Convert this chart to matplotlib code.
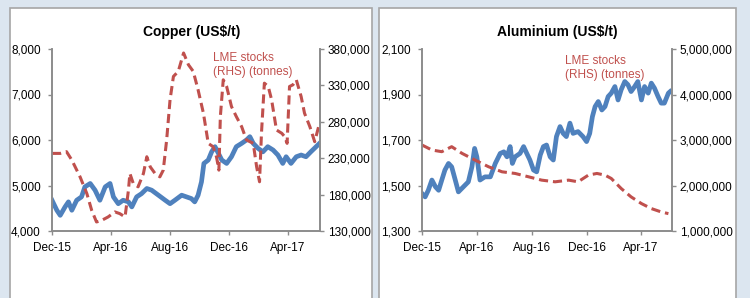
import pandas as pd
import numpy as np
import matplotlib
matplotlib.use('Agg')
import matplotlib.pyplot as plt
from matplotlib.patches import Rectangle
from matplotlib.ticker import FuncFormatter

plt.rcParams['font.family'] = ['Liberation Sans', 'DejaVu Sans']

# --- Copper price (US$/t) ---
cu_price_dates = ['2015-12-01', '2015-12-11', '2015-12-18', '2015-12-28', '2016-01-04', '2016-01-11',
                  '2016-01-21', '2016-01-31', '2016-02-07', '2016-02-18', '2016-02-28', '2016-03-09',
                  '2016-03-20', '2016-03-30', '2016-04-06', '2016-04-16', '2016-04-26', '2016-05-07',
                  '2016-05-14', '2016-05-24', '2016-06-03', '2016-06-14', '2016-06-24', '2016-07-08',
                  '2016-07-22', '2016-08-01', '2016-08-11', '2016-08-25', '2016-09-04', '2016-09-14',
                  '2016-09-21', '2016-09-28', '2016-10-05', '2016-10-10', '2016-10-19', '2016-10-26',
                  '2016-11-02', '2016-11-09', '2016-11-16', '2016-11-26', '2016-12-06', '2016-12-16',
                  '2016-12-27', '2017-01-06', '2017-01-13', '2017-01-20', '2017-01-30', '2017-02-09',
                  '2017-02-19', '2017-03-02', '2017-03-12', '2017-03-22', '2017-03-29', '2017-04-08',
                  '2017-04-19', '2017-04-29', '2017-05-09', '2017-05-19', '2017-05-30', '2017-06-06']
cu_price = [4676, 4456, 4345, 4530, 4640, 4456, 4676, 4750, 4970, 5044, 4897, 4676,
            4970, 5044, 4750, 4600, 4676, 4640, 4530, 4750, 4820, 4934, 4897, 4787,
            4676, 4600, 4676, 4787, 4750, 4713, 4640, 4787, 5080, 5485, 5560, 5740,
            5853, 5706, 5560, 5485, 5632, 5853, 5926, 6000, 6073, 5926, 5816, 5740,
            5853, 5780, 5670, 5485, 5632, 5485, 5632, 5670, 5632, 5740, 5853, 5926]

# --- Copper LME stocks (tonnes) ---
cu_stock_dates = ['2015-12-01', '2015-12-18', '2015-12-31', '2016-01-11', '2016-01-28', '2016-02-11',
                  '2016-02-21', '2016-03-02', '2016-03-13', '2016-03-26', '2016-04-09', '2016-04-19',
                  '2016-04-30', '2016-05-07', '2016-05-10', '2016-05-17', '2016-05-27', '2016-06-07',
                  '2016-06-14', '2016-06-21', '2016-07-01', '2016-07-11', '2016-07-18', '2016-07-25',
                  '2016-08-01', '2016-08-08', '2016-08-18', '2016-08-29', '2016-09-08', '2016-09-18',
                  '2016-09-28', '2016-10-09', '2016-10-19', '2016-10-29', '2016-11-05', '2016-11-10',
                  '2016-11-13', '2016-11-19', '2016-11-26', '2016-12-06', '2016-12-16', '2016-12-27',
                  '2017-01-06', '2017-01-20', '2017-01-27', '2017-02-02', '2017-02-06', '2017-02-12',
                  '2017-02-20', '2017-02-27', '2017-03-09', '2017-03-20', '2017-03-26', '2017-03-31',
                  '2017-04-05', '2017-04-12', '2017-04-19', '2017-04-29', '2017-05-06', '2017-05-17',
                  '2017-05-27', '2017-06-06']
cu_stock = [236600, 236600, 239000, 227400, 204400, 181500, 158500, 142400, 144700, 149300,
            156200, 153900, 149300, 186000, 209000, 195300, 190700, 209000, 232000, 218200,
            209000, 204400, 213600, 255000, 310100, 342300, 349200, 374500, 358400, 349200,
            323900, 291800, 250400, 245800, 232000, 213600, 287200, 337700, 328500, 301000,
            287200, 273400, 255000, 250400, 218200, 197600, 264200, 333100, 328500, 310100,
            268800, 264200, 259600, 250400, 328500, 330800, 337700, 314700, 291800, 273400,
            252700, 278000]

# --- Aluminium price (US$/t) ---
al_price_dates = ['2015-12-01', '2015-12-08', '2015-12-15', '2015-12-23', '2015-12-31', '2016-01-07',
                  '2016-01-14', '2016-01-21', '2016-01-29', '2016-02-05', '2016-02-13', '2016-02-20',
                  '2016-03-02', '2016-03-13', '2016-03-21', '2016-03-27', '2016-04-01', '2016-04-08',
                  '2016-04-19', '2016-05-01', '2016-05-12', '2016-05-23', '2016-05-31', '2016-06-07',
                  '2016-06-14', '2016-06-19', '2016-06-25', '2016-07-06', '2016-07-14', '2016-07-21',
                  '2016-07-28', '2016-08-05', '2016-08-12', '2016-08-20', '2016-08-27', '2016-09-03',
                  '2016-09-11', '2016-09-18', '2016-09-25', '2016-10-03', '2016-10-10', '2016-10-17',
                  '2016-10-25', '2016-11-01', '2016-11-12', '2016-11-23', '2016-12-01', '2016-12-08',
                  '2016-12-14', '2016-12-20', '2016-12-27', '2017-01-04', '2017-01-11', '2017-01-18',
                  '2017-01-25', '2017-02-02', '2017-02-09', '2017-02-16', '2017-02-24', '2017-03-03',
                  '2017-03-10', '2017-03-18', '2017-03-25', '2017-04-02', '2017-04-09', '2017-04-17',
                  '2017-04-24', '2017-05-01', '2017-05-09', '2017-05-16', '2017-05-23', '2017-06-01',
                  '2017-06-05']
al_price = [1465, 1450, 1479, 1524, 1494, 1479, 1524, 1568, 1597, 1582, 1524, 1472,
            1494, 1516, 1582, 1663, 1626, 1524, 1538, 1538, 1597, 1641, 1648, 1626,
            1671, 1597, 1626, 1641, 1671, 1641, 1612, 1568, 1560, 1634, 1671, 1678,
            1626, 1612, 1715, 1759, 1729, 1715, 1774, 1729, 1737, 1715, 1693, 1729,
            1803, 1847, 1869, 1832, 1847, 1891, 1906, 1935, 1876, 1921, 1957, 1943,
            1913, 1935, 1957, 1876, 1935, 1906, 1950, 1928, 1891, 1862, 1862, 1906,
            1913]

# --- Aluminium LME stocks (tonnes) ---
al_stock_dates = ['2015-12-01', '2015-12-23', '2016-01-14', '2016-02-05', '2016-02-28', '2016-03-28',
                  '2016-04-27', '2016-05-27', '2016-06-25', '2016-07-25', '2016-08-23', '2016-09-22',
                  '2016-10-22', '2016-11-12', '2016-12-05', '2016-12-24', '2017-01-11', '2017-01-25',
                  '2017-02-16', '2017-03-10', '2017-04-02', '2017-04-24', '2017-05-16', '2017-06-01']
al_stock = [2890000, 2780000, 2743000, 2853000, 2706000, 2559000, 2412000, 2301000, 2265000,
            2191000, 2118000, 2081000, 2118000, 2081000, 2228000, 2265000, 2228000, 2154000,
            1934000, 1750000, 1603000, 1493000, 1419000, 1382000]

tick_dates = ['2015-12-01', '2016-04-01', '2016-08-01', '2016-12-01', '2017-04-01']
tick_labels = ['Dec-15', 'Apr-16', 'Aug-16', 'Dec-16', 'Apr-17']

BLUE = '#4f81bd'
RED = '#c0504d'
GREY = '#8c8c8c'
FS = 8.5

fig = plt.figure(figsize=(7.5, 2.98), dpi=100)
fig.patch.set_facecolor('#dce6f0')

# white panels with grey borders
W, H = 750.0, 298.0
for x0, x1 in [(10, 372), (379, 736)]:
    fig.patches.append(Rectangle((x0 / W, -0.05), (x1 - x0) / W, (H - 8) / H + 0.05,
                                 transform=fig.transFigure, facecolor='white',
                                 edgecolor='#a6a6a6', linewidth=1.2, zorder=-5))


def draw_panel(rect, title, title_x, pdates, prices, sdates, stocks, ylim, yticks,
               y2lim, y2ticks, xend, ann_xy):
    ax = fig.add_axes(rect)
    ax.patch.set_alpha(0)
    ax.plot(pd.to_datetime(pdates), prices, color=BLUE, linewidth=3.4, solid_joinstyle='round')
    ax2 = ax.twinx()
    ax2.plot(pd.to_datetime(sdates), stocks, color=RED, linewidth=2.2, dashes=(3.0, 1.6))

    ax.set_xlim(pd.Timestamp('2015-12-01'), pd.Timestamp(xend))
    ax.set_ylim(*ylim)
    ax.set_yticks(yticks)
    ax2.set_ylim(*y2lim)
    ax2.set_yticks(y2ticks)
    fmt = FuncFormatter(lambda v, p: '{:,.0f}'.format(v))
    ax.yaxis.set_major_formatter(fmt)
    ax2.yaxis.set_major_formatter(fmt)
    ax.set_xticks(pd.to_datetime(tick_dates))
    ax.set_xticklabels(tick_labels)

    for a in (ax, ax2):
        a.spines['top'].set_visible(False)
        for s in ('left', 'right', 'bottom'):
            a.spines[s].set_color(GREY)
            a.spines[s].set_linewidth(1.2)
        a.tick_params(direction='out', length=3, width=1, color=GREY, labelsize=FS)
    ax.tick_params(axis='y', pad=5)
    ax2.tick_params(axis='y', pad=2.5)
    ax.tick_params(axis='x', pad=5)

    fig.text(title_x / W, 1 - 32 / H, title, fontsize=10, fontweight='bold',
             ha='center', va='center')
    ax2.text(ann_xy[0], ann_xy[1], 'LME stocks\n(RHS) (tonnes)', transform=ax2.transAxes,
             color=RED, fontsize=FS, ha='left', va='top', linespacing=1.25)
    return ax, ax2


draw_panel([52 / W, 1 - 231 / H, (320 - 52) / W, (231 - 49) / H], 'Copper (US$/t)', 192,
           cu_price_dates, cu_price, cu_stock_dates, cu_stock,
           (4000, 8000), [4000, 5000, 6000, 7000, 8000],
           (130000, 380000), [130000, 180000, 230000, 280000, 330000, 380000],
           '2017-06-07', ((213 - 52) / (320 - 52), 1 - (52 - 49) / (231 - 49)))

draw_panel([422 / W, 1 - 231 / H, (672 - 422) / W, (231 - 49) / H], 'Aluminium (US$/t)', 557,
           al_price_dates, al_price, al_stock_dates, al_stock,
           (1300, 2100), [1300, 1500, 1700, 1900, 2100],
           (1000000, 5000000), [1000000, 2000000, 3000000, 4000000, 5000000],
           '2017-06-09', ((565 - 422) / (672 - 422), 1 - (55 - 49) / (231 - 49)))

fig.savefig('out.png', dpi=100, facecolor=fig.get_facecolor())
